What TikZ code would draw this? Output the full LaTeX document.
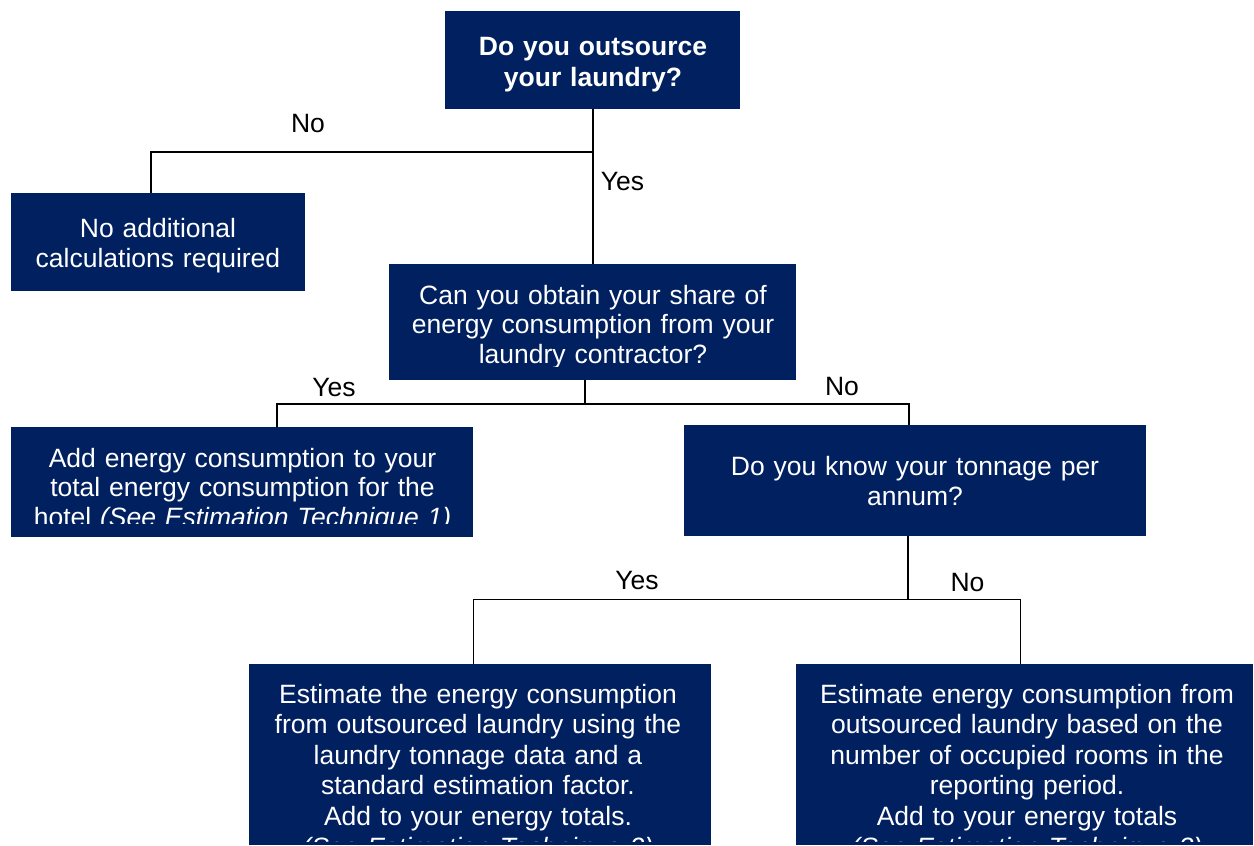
\documentclass[tikz,border=0pt]{standalone}
\usepackage{fontspec}
\setmainfont{Liberation Sans}
\definecolor{navy}{RGB}{0,32,96}
\begin{document}
\begin{tikzpicture}[x=1pt,y=-1pt,
  box/.style={fill=navy, draw=none, inner sep=0pt, anchor=north west},
  txt/.style={text=white, font=\fontsize{26.5}{30.6}\selectfont, align=center, anchor=base, inner sep=0pt},
  lab/.style={text=black, font=\fontsize{26.5}{30.6}\selectfont, anchor=base, inner sep=0pt},
  conn/.style={draw=black, line width=1.7pt}]
\useasboundingbox (0,0) rectangle (1254,846);

% boxes
\node[box, minimum width=295pt, minimum height=98pt]  (q1) at (445,11) {};
\node[box, minimum width=294pt, minimum height=98pt]  (q2) at (11,193) {};
\node[box, minimum width=407pt, minimum height=116pt] (q3) at (389,264) {};
\node[box, minimum width=462pt, minimum height=110pt] (q4) at (11,427) {};
\node[box, minimum width=462pt, minimum height=110.5pt] (q5) at (684,425) {};
\node[box, minimum width=462pt, minimum height=181pt] (q6) at (249,664) {};
\node[box, minimum width=457pt, minimum height=181pt] (q7) at (796,664) {};

% texts
\node[txt, text width=295pt, font=\fontsize{26.5}{31}\selectfont\bfseries] (t1) at (593,55) {Do you outsource\\your laundry?};
\node[txt, text width=294pt, font=\fontsize{26.5}{30.5}\selectfont] (t2) at (158,237) {No additional\\calculations required};
\begin{scope}
  \clip (389,264) rectangle (796,366.5);
  \node[txt, text width=407pt, font=\fontsize{26.5}{29.5}\selectfont] (t3) at (593,304) {Can you obtain your share of\\energy consumption from your\\laundry contractor?};
\end{scope}
\begin{scope}
  \clip (11,427) rectangle (473,523);
  \node[txt, text width=462pt, font=\fontsize{26.5}{29.8}\selectfont] (t4) at (242.5,467) {Add energy consumption to your\\total energy consumption for the\\hotel \textit{(See Estimation Technique 1)}};
\end{scope}
\node[txt, text width=462pt, font=\fontsize{26.5}{30}\selectfont] (t5) at (915,475) {Do you know your tonnage per\\annum?};
\begin{scope}
  \clip (249,664) rectangle (711,841);
  \node[txt, text width=462pt] (t6) at (478,703) {Estimate the energy consumption\\from outsourced laundry using the\\laundry tonnage data and a\\standard estimation factor.\\Add to your energy totals.\\\textit{(See Estimation Technique 2)}};
\end{scope}
\begin{scope}
  \clip (796,664) rectangle (1253,841);
  \node[txt, text width=457pt] (t7) at (1027,703) {Estimate energy consumption from\\outsourced laundry based on the\\number of occupied rooms in the\\reporting period.\\Add to your energy totals\\\textit{(See Estimation Technique 3)}};
\end{scope}

% connectors
\coordinate (j1) at (151,152);
\draw[conn] (q1.south) -- (q3.north);
\draw[conn] (j1 -| q1.south) -- (j1) -- (j1 |- q2.north);

\coordinate (j2) at (585,404);
\coordinate (j2l) at (277,404);
\coordinate (j2r) at (909,404);
\draw[conn] (j2 |- q3.south) -- (j2);
\draw[conn] (j2l |- q4.north) -- (j2l) -- (j2r) -- (j2r |- q5.north);

\coordinate (j3) at (908,599.5);
\coordinate (j3l) at (473.5,599.5);
\coordinate (j3r) at (1020.5,599.5);
\draw[conn] (j3 |- q5.south) -- (j3);
\draw[conn] (j3l |- q6.north) -- (j3l) -- (j3r) -- (j3r |- q7.north);

% labels
\node[lab] (l1) at (308,132.5) {No};
\node[lab] (l2) at (622.5,190) {Yes};
\node[lab] (l3) at (334,396) {Yes};
\node[lab] (l4) at (842,395) {No};
\node[lab] (l5) at (637,589.5) {Yes};
\node[lab] (l6) at (967.5,591) {No};
\end{tikzpicture}
\end{document}
